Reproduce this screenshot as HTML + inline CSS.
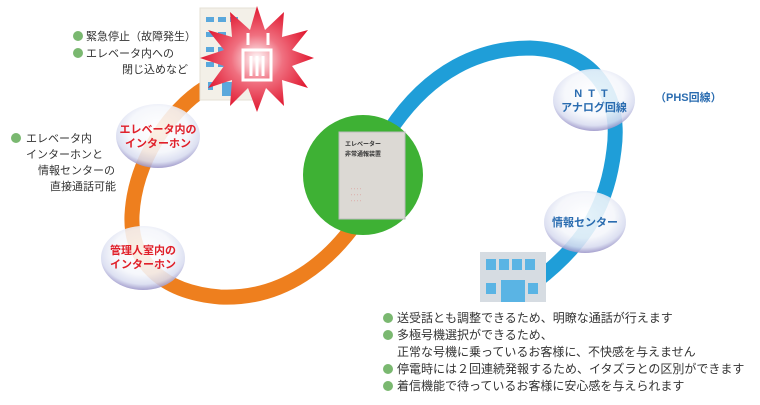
<!DOCTYPE html>
<html><head><meta charset="utf-8"><style>
body{margin:0;background:#fff}
svg text{font-family:"Liberation Sans","Noto Sans CJK JP",sans-serif}
</style></head><body>
<svg width="760" height="400" viewBox="0 0 760 400" xmlns="http://www.w3.org/2000/svg">
<defs>
<radialGradient id="bub" cx="50%" cy="40%" r="60%">
<stop offset="0" stop-color="#ffffff"/><stop offset="0.6" stop-color="#f4f6fb"/><stop offset="0.85" stop-color="#d8dcf0"/><stop offset="1" stop-color="#9a94c8"/>
</radialGradient>
<radialGradient id="star" cx="50%" cy="50%" r="50%">
<stop offset="0" stop-color="#ffffff"/><stop offset="0.45" stop-color="#f07080"/><stop offset="1" stop-color="#e01830"/>
</radialGradient>
</defs>
<path d="M205,88 C170,110 135,160 132,215 C130,260 160,292 220,297 C285,300 330,260 358,220" fill="none" stroke="#ee7f1e" stroke-width="15"/>
<path d="M390,130 C430,70 480,48 530,48 C590,50 622,90 614,150 C608,200 590,240 535,282" fill="none" stroke="#1f9ed8" stroke-width="15"/>
<rect x="200" y="8" width="56" height="92" fill="#f3f0e8" stroke="#e4e0d6"/>
<g fill="#5aa8dc">
<rect x="206" y="17" width="8" height="5"/><rect x="218" y="17" width="8" height="5"/><rect x="230" y="17" width="8" height="5"/>
<rect x="206" y="32" width="8" height="5"/><rect x="218" y="32" width="8" height="5"/>
<rect x="206" y="47" width="8" height="5"/><rect x="218" y="47" width="8" height="5"/>
<rect x="206" y="62" width="8" height="5"/><rect x="218" y="62" width="8" height="5"/>
<rect x="208" y="82" width="5" height="8"/><rect x="222" y="82" width="18" height="14"/>
</g>
<polygon fill="url(#star)" points="257,6 265,30 284,12 282,37 308,30 292,50 314,58 292,66 308,88 282,80 284,106 266,88 257,112 248,88 230,106 232,80 208,88 224,66 200,58 224,50 208,30 232,37 230,12 250,30"/>
<rect x="243" y="50" width="28" height="30" fill="none" stroke="#fff" stroke-width="3"/>
<g stroke="#fff" stroke-width="3"><line x1="251" y1="56" x2="251" y2="76"/><line x1="257" y1="56" x2="257" y2="76"/><line x1="263" y1="56" x2="263" y2="76"/><line x1="248" y1="33" x2="248" y2="45"/><line x1="268" y1="33" x2="268" y2="45"/></g>
<circle cx="363" cy="175" r="60" fill="#3eb134"/>
<rect x="339" y="132" width="66" height="87" fill="#dcd9d4" stroke="#bbb"/>
<text x="345" y="146" font-size="6" font-weight="bold" fill="#333">エレベーター</text>
<text x="345" y="156" font-size="6" font-weight="bold" fill="#333">非常通報装置</text>
<g fill="#d55" font-size="3"><text x="350" y="190">・・・・</text><text x="350" y="196">・・・・</text><text x="350" y="202">・・・・</text></g>
<rect x="480" y="252" width="66" height="50" fill="#d6dce2"/>
<g fill="#5ab4e4">
<rect x="486" y="259" width="10" height="11"/><rect x="499" y="259" width="10" height="11"/><rect x="512" y="259" width="10" height="11"/><rect x="525" y="259" width="10" height="11"/>
<rect x="486" y="283" width="10" height="11"/><rect x="501" y="280" width="24" height="22"/><rect x="528" y="283" width="10" height="11"/>
</g>
<g opacity="0.88">
<ellipse cx="158" cy="136" rx="42" ry="32" fill="url(#bub)"/>
<ellipse cx="143" cy="258" rx="42" ry="32" fill="url(#bub)"/>
<ellipse cx="594" cy="100" rx="41" ry="31" fill="url(#bub)"/>
<ellipse cx="585" cy="222" rx="41" ry="31" fill="url(#bub)"/>
</g>
<g font-size="11" font-weight="bold" text-anchor="middle">
<text x="158" y="133" fill="#e0202a">エレベータ内の</text><text x="158" y="147" fill="#e0202a">インターホン</text>
<text x="143" y="254" fill="#e0202a">管理人室内の</text><text x="143" y="268" fill="#e0202a">インターホン</text>
<text x="594" y="97" fill="#2a6cb0" letter-spacing="6">NTT</text><text x="594" y="111" fill="#2a6cb0">アナログ回線</text>
<text x="585" y="226" fill="#2a6cb0">情報センター</text>
</g>
<text x="655" y="101" font-size="11" font-weight="bold" fill="#2a6cb0">（PHS回線）</text>
<g font-size="11" fill="#333">
<circle cx="78" cy="36" r="5" fill="#7ab870"/><text x="86" y="40">緊急停止（故障発生）</text>
<circle cx="78" cy="53" r="5" fill="#7ab870"/><text x="86" y="57">エレベータ内への</text>
<text x="122" y="73">閉じ込めなど</text>
<circle cx="16" cy="138" r="5" fill="#7ab870"/><text x="26" y="142">エレベータ内</text>
<text x="26" y="158">インターホンと</text>
<text x="38" y="174">情報センターの</text>
<text x="50" y="190">直接通話可能</text>
</g>
<g font-size="12" fill="#333">
<circle cx="388" cy="318" r="5" fill="#7ab870"/><text x="397" y="322">送受話とも調整できるため、明瞭な通話が行えます</text>
<circle cx="388" cy="335" r="5" fill="#7ab870"/><text x="397" y="339">多極号機選択ができるため、</text>
<text x="397" y="356">正常な号機に乗っているお客様に、不快感を与えません</text>
<circle cx="388" cy="369" r="5" fill="#7ab870"/><text x="397" y="373">停電時には２回連続発報するため、イタズラとの区別ができます</text>
<circle cx="388" cy="386" r="5" fill="#7ab870"/><text x="397" y="390">着信機能で待っているお客様に安心感を与えられます</text>
</g>
</svg>
</body></html>
